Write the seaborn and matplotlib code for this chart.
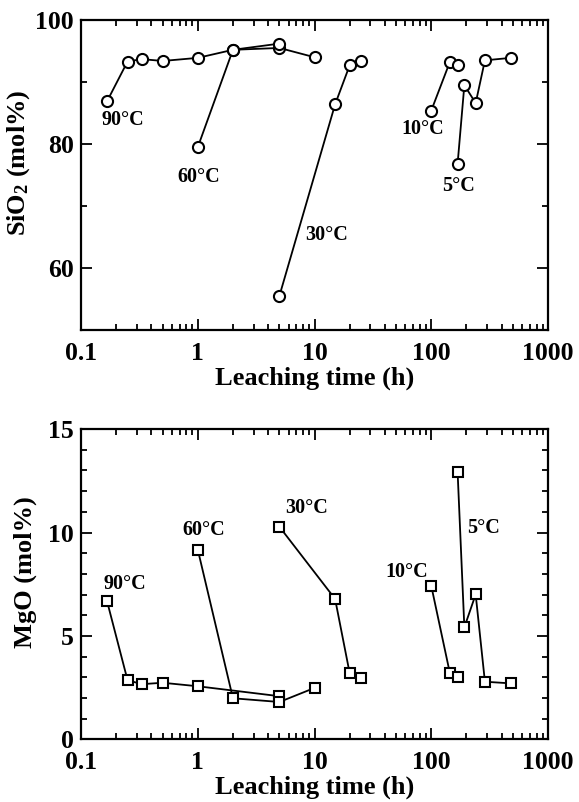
import numpy as np
import pandas as pd
import matplotlib
matplotlib.use("Agg")
import matplotlib.pyplot as plt
import seaborn as sns
from matplotlib.ticker import LogLocator, MultipleLocator, FixedLocator, FixedFormatter

# --- dados ---
# SiO2 (mol%)
sio2_90_t = [0.167, 0.25, 0.33, 0.5, 1, 2, 5, 10]
sio2_90_v = [86.9, 93.3, 93.7, 93.4, 93.9, 95.2, 95.5, 94.0]
sio2_60_t = [1, 2, 5]
sio2_60_v = [79.5, 95.2, 96.2]
sio2_30_t = [5, 15, 20, 25]
sio2_30_v = [55.5, 86.4, 92.7, 93.4]
sio2_10_t = [100, 144, 168]
sio2_10_v = [85.4, 93.2, 92.7]
sio2_5_t = [168, 192, 240, 288, 480]
sio2_5_v = [76.8, 89.5, 86.6, 93.5, 93.9]

# MgO (mol%)
mgo_90_t = [0.167, 0.25, 0.33, 0.5, 1, 5]
mgo_90_v = [6.68, 2.87, 2.67, 2.74, 2.57, 2.09]
mgo_60_t = [1, 2, 5, 10]
mgo_60_v = [9.17, 1.99, 1.81, 2.49]
mgo_30_t = [5, 15, 20, 25]
mgo_30_v = [10.28, 6.79, 3.20, 2.99]
mgo_10_t = [100, 144, 168]
mgo_10_v = [7.42, 3.23, 3.02]
mgo_5_t = [168, 192, 240, 288, 480]
mgo_5_v = [12.94, 5.42, 7.01, 2.79, 2.71]

temp_labels = ["90°C", "60°C", "30°C", "10°C", "5°C"]
# posicoes dos rotulos (x, y) em coordenadas de dados
sio2_label_pos = [(0.226, 83.9), (1.01, 74.7), (12.7, 65.3), (85, 82.4), (172, 73.2)]
mgo_label_pos = [(0.237, 7.50), (1.125, 10.12), (8.6, 11.17), (61.5, 8.07), (282, 10.24)]

x_ticks = [0.1, 1, 10, 100, 1000]
x_ticklabels = ["0.1", "1", "10", "100", "1000"]

sns.set_style("ticks")
plt.rcParams["font.family"] = ["Liberation Serif", "DejaVu Serif"]
plt.rcParams["font.weight"] = "bold"
plt.rcParams["mathtext.fontset"] = "custom"
plt.rcParams["mathtext.rm"] = "Liberation Serif:bold"
plt.rcParams["mathtext.it"] = "Liberation Serif:bold"
plt.rcParams["mathtext.bf"] = "Liberation Serif:bold"
for k in ["text.color", "axes.labelcolor", "xtick.color", "ytick.color", "axes.edgecolor"]:
    plt.rcParams[k] = "black"

fig = plt.figure(figsize=(5.79, 8.02), dpi=100)
ax1 = fig.add_axes([0.140, 0.5885, 0.8065, 0.3865])
ax2 = fig.add_axes([0.140, 0.078, 0.8065, 0.387])


def desenha(ax, series, marker, ms):
    for t, v in series:
        df = pd.DataFrame({"t": t, "v": v})
        sns.lineplot(data=df, x="t", y="v", ax=ax, estimator=None, sort=False,
                     color="black", lw=1.3, marker=marker, markersize=ms,
                     markerfacecolor="white", markeredgecolor="black",
                     markeredgewidth=1.5, legend=False)


def estilo(ax, ylab, ylim, major, minor, ylab_xy):
    ax.set_xscale("log")
    ax.set_xlim(0.1, 1000)
    ax.set_ylim(*ylim)
    ax.xaxis.set_major_locator(FixedLocator(x_ticks))
    ax.xaxis.set_major_formatter(FixedFormatter(x_ticklabels))
    ax.xaxis.set_minor_locator(LogLocator(base=10, subs=np.arange(2, 10), numticks=20))
    ax.yaxis.set_major_locator(MultipleLocator(major))
    ax.yaxis.set_minor_locator(MultipleLocator(minor))
    ax.tick_params(which="both", direction="in", top=True, right=True, width=1.3)
    ax.tick_params(which="major", length=8, labelsize=18.5)
    ax.tick_params(axis="x", which="major", pad=8.5)
    ax.tick_params(axis="y", which="major", pad=5)
    ax.tick_params(which="minor", length=4)
    for s in ax.spines.values():
        s.set_linewidth(1.6)
    for lab in ax.get_xticklabels() + ax.get_yticklabels():
        lab.set_fontweight("bold")
    ax.set_xlabel("Leaching time (h)", fontsize=19, fontweight="bold", labelpad=1)
    ax.set_ylabel(ylab, fontsize=19, fontweight="bold")
    ax.yaxis.set_label_coords(*ylab_xy)


desenha(ax1, [(sio2_90_t, sio2_90_v), (sio2_60_t, sio2_60_v), (sio2_30_t, sio2_30_v),
              (sio2_10_t, sio2_10_v), (sio2_5_t, sio2_5_v)], "o", 8)
estilo(ax1, "SiO$_2$ (mol%)", (50, 100), 20, 10, (-0.105, 0.54))
for lab, (x, y) in zip(temp_labels, sio2_label_pos):
    ax1.text(x, y, lab, ha="center", va="center", fontsize=14.5, fontweight="bold")

desenha(ax2, [(mgo_90_t, mgo_90_v), (mgo_60_t, mgo_60_v), (mgo_30_t, mgo_30_v),
              (mgo_10_t, mgo_10_v), (mgo_5_t, mgo_5_v)], "s", 6.5)
estilo(ax2, "MgO (mol%)", (0, 15), 5, 1, (-0.095, 0.538))
for lab, (x, y) in zip(temp_labels, mgo_label_pos):
    ax2.text(x, y, lab, ha="center", va="center", fontsize=14.5, fontweight="bold")

fig.savefig("out.png", dpi=100)
